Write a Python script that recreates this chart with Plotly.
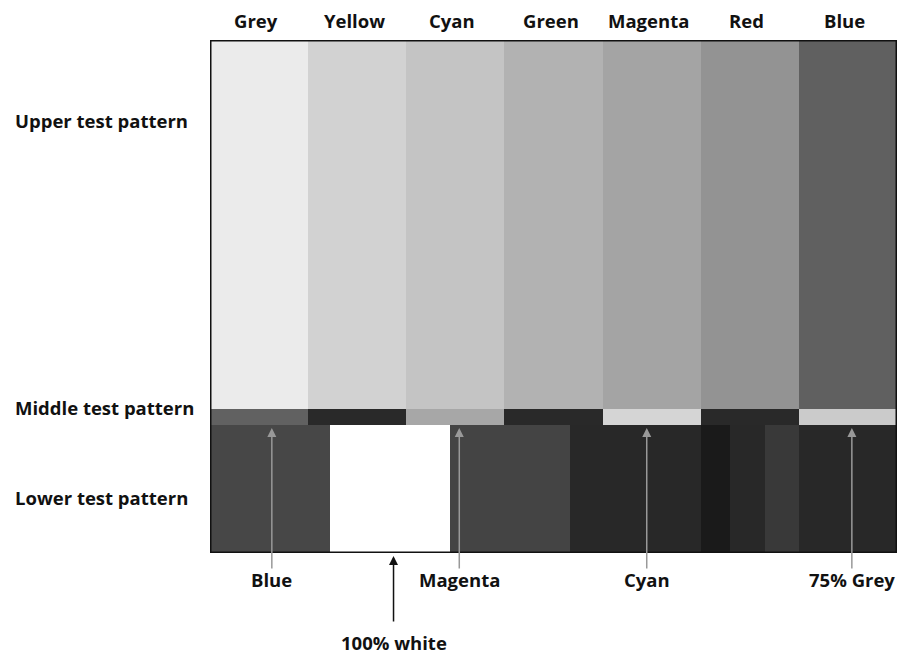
import plotly.graph_objects as go

# column names across the top and their grey levels
bar_names = ["Grey", "Yellow", "Cyan", "Green", "Magenta", "Red", "Blue"]
upper_greys = ["#ebebeb", "#d2d2d2", "#c4c4c4", "#b2b2b2", "#a4a4a4", "#939393", "#606060"]
middle_greys = ["#616161", "#292929", "#a7a7a7", "#292929", "#d5d5d5", "#292929", "#cbcbcb"]

# lower pattern: segment edges (in bar widths) and grey levels
lower_edges = [0, 1.22, 2.45, 3.67, 5.0, 5.3, 5.65, 6.0, 7.0]
lower_greys = ["#474747", "#ffffff", "#444444", "#282828", "#1a1a1a", "#282828", "#393939", "#282828"]

# row heights (lower, middle, upper)
row_heights = [128, 16, 369]
row_names = ["Lower test pattern", "Middle test pattern", "Upper test pattern"]

# callouts below the chart: label, x position in bar widths
callout_labels = ["Blue", "Magenta", "Cyan", "75% Grey"]
callout_x = [0.63, 2.54, 4.45, 6.54]
white_label = "100% white"
white_x = 1.87

FONT = "Open Sans"
txt = dict(family=FONT, size=18.5, color="#111111", weight="bold")

lower_base = 0
middle_base = row_heights[0]
upper_base = row_heights[0] + row_heights[1]
total_h = sum(row_heights)

fig = go.Figure()

# upper row
fig.add_trace(go.Bar(
    x=[i + 0.5 for i in range(7)], y=[row_heights[2]] * 7, base=upper_base,
    width=1, marker=dict(color=upper_greys, line=dict(width=0)),
    hoverinfo="skip", showlegend=False))

# middle row
fig.add_trace(go.Bar(
    x=[i + 0.5 for i in range(7)], y=[row_heights[1]] * 7, base=middle_base,
    width=1, marker=dict(color=middle_greys, line=dict(width=0)),
    hoverinfo="skip", showlegend=False))

# lower row
centers = [(lower_edges[i] + lower_edges[i + 1]) / 2 for i in range(len(lower_greys))]
widths = [lower_edges[i + 1] - lower_edges[i] for i in range(len(lower_greys))]
fig.add_trace(go.Bar(
    x=centers, y=[row_heights[0]] * len(centers), base=lower_base,
    width=widths, marker=dict(color=lower_greys, line=dict(width=0)),
    hoverinfo="skip", showlegend=False))

# frame around the pattern
fig.add_shape(type="rect", x0=0, x1=7, y0=0, y1=total_h,
              line=dict(color="#111111", width=3), layer="above")

annotations = []
# column names
for i, name in enumerate(bar_names):
    annotations.append(dict(x=i + 0.47, y=total_h, yshift=20, text=name, showarrow=False,
                            xanchor="center", yanchor="middle", font=txt))

# row names at left
row_y = [56, 146, 433]
for name, yy in zip(row_names, row_y):
    annotations.append(dict(x=0, y=yy, xref="x", text=name, showarrow=False,
                            xanchor="left", yanchor="middle", xshift=-197, font=txt))

# grey arrows up into the middle row
for lab, xx in zip(callout_labels, callout_x):
    annotations.append(dict(x=xx, y=middle_base - 3, ax=0, ay=142, text="",
                            showarrow=True, arrowhead=2, arrowsize=1.2, arrowwidth=1.5,
                            arrowcolor="#999999"))
    annotations.append(dict(x=xx, y=0, yshift=-26, text=lab, showarrow=False,
                            xanchor="center", yanchor="middle", font=txt))

# black arrow for the white block (paper y so it is not hidden below the axis)
annotations.append(dict(x=white_x, y=0, yref="paper", yshift=-3, ax=0, ay=67, text="",
                        showarrow=True, arrowhead=2, arrowsize=1.2, arrowwidth=1.5,
                        arrowcolor="#111111"))
annotations.append(dict(x=white_x, y=0, yshift=-89, text=white_label, showarrow=False,
                        xanchor="center", yanchor="middle", font=txt))

# page has an 8px body margin, so the figure is a little smaller than the window
fig.update_layout(
    width=911, height=646,
    margin=dict(l=202, r=22, t=32, b=101),
    paper_bgcolor="white", plot_bgcolor="white",
    barmode="overlay", bargap=0,
    xaxis=dict(range=[0, 7], visible=False, fixedrange=True),
    yaxis=dict(range=[0, total_h], visible=False, fixedrange=True),
    annotations=annotations,
    font=dict(family=FONT),
)

fig.write_html("out.html")
